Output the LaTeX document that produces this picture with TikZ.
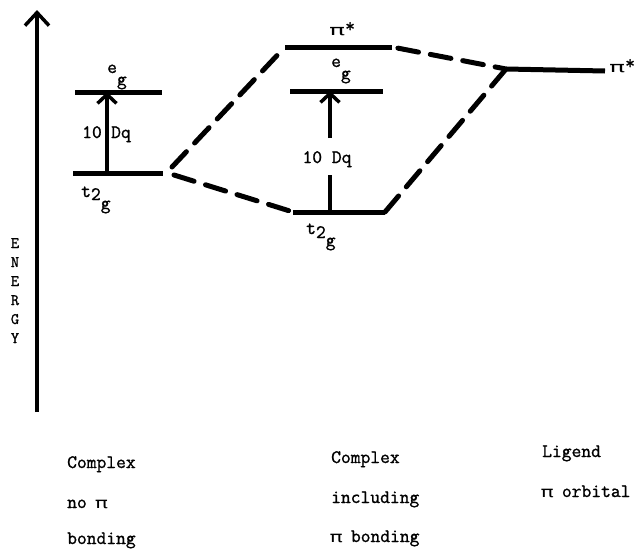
\documentclass[tikz,border=0pt]{standalone}
\usepackage{fontspec}
\newfontfamily\grkfont{DejaVu Sans Mono}
% typewriter face, slightly emboldened like a ribbon impression
\newfontfamily\twfont{Latin Modern Mono}[FakeBold=1.2]
\usetikzlibrary{arrows.meta}

% typewriter pi, one character cell wide
\newcommand\tpi{\makebox[0.525em]{\grkfont\scalebox{1.15}[0.8]{π}}}
% wider pi for the orbital labels
\newcommand\wpi{{\grkfont\scalebox{1.4}[0.78]{π}}}

\begin{document}
\begin{tikzpicture}[x=1pt,y=-1pt,
  level/.style={line width=5pt},
  link/.style={line width=5pt, line cap=round, dash pattern=on 21pt off 12pt},
  axis/.style={line width=3.5pt, -{Straight Barb[length=13pt,width=24pt,line width=3.5pt]}},
  split/.style={line width=3.5pt, -{Straight Barb[length=9pt,width=19pt,line width=3.5pt]}},
  stem/.style={line width=3.5pt},
  tw/.style={font=\fontsize{19}{19}\twfont, inner sep=0pt, anchor=base west},
  twc/.style={tw, anchor=base},
  twe/.style={tw, anchor=base east},
  ylab/.style={font=\fontsize{16}{16}\twfont, inner sep=0pt, anchor=base}]
\useasboundingbox (0,0) rectangle (635,549);

% ---- energy axis ----
\coordinate (axB) at (37,412);
\coordinate (axT) at (37,10);
\draw[axis] (axB) -- (axT);
\foreach \c [count=\i] in {E,N,E,R,G,Y}
  \node[ylab] (en\i) at (15,229+19*\i) {\c};

% ---- complex without pi bonding ----
\coordinate (LegL) at (75,92);   \coordinate (LegR) at (162,92);
\coordinate (LtL)  at (73,173);  \coordinate (LtR)  at (163,173);
\draw[level] (LegL) -- (LegR);
\draw[level] (LtL) -- (LtR);
\coordinate (LarB) at (107,173); \coordinate (LarT) at (107,92);
\draw[split] (LarB) -- (LarT);
\node[tw] (egL) at (107,73) {e\raisebox{-12pt}{g}};
\node[tw] (t2gL) at (81,197) {t\raisebox{-3pt}{2}\raisebox{-12pt}{g}};
\node[twe] (tenL) at (102,138) {10};
\node[tw] (dqL) at (111,138) {Dq};

% ---- complex including pi bonding ----
\coordinate (MpL) at (285,47);   \coordinate (MpR) at (392,47);
\coordinate (MegL) at (290,91);  \coordinate (MegR) at (383,91);
\coordinate (MtL) at (293,212);  \coordinate (MtR) at (385,212);
\draw[level] (MpL) -- (MpR);
\draw[level] (MegL) -- (MegR);
\draw[level] (MtL) -- (MtR);
\node[tw] (piM) at (329,35) {\wpi\raisebox{3pt}{*}};
\node[tw] (egM) at (331,67) {e\raisebox{-12pt}{g}};
\node[tw] (t2gM) at (306,234) {t\raisebox{-4pt}{2}\raisebox{-12pt}{g}};
\node[twc] (dqM) at (327,163) {10 Dq};
\coordinate (MarB) at (330,212); \coordinate (MarG) at (330,175);
\coordinate (MarS) at (330,138); \coordinate (MarT) at (330,91);
\draw[stem] (MarB) -- (MarG);
\draw[split] (MarS) -- (MarT);

% ---- ligand pi* orbital ----
\coordinate (RpL) at (506,69);   \coordinate (RpR) at (605,71);
\draw[level] (RpL) -- (RpR);
\node[tw] (piR) at (609,72) {\wpi\raisebox{3pt}{*}};

% ---- correlation lines ----
\coordinate (jU) at (172,167);
\coordinate (jD) at (174,175);
\draw[link] (jU) -- (MpL);
\draw[link] (jD) -- (MtL);
\draw[link, dash phase=27pt] (MpR) -- (RpL);
\draw[link] (MtR) -- (RpL);

% ---- column captions ----
\node[tw] (c1a) at (67,468) {Complex};
\node[tw] (c1b) at (67,508) {no \tpi};
\node[tw] (c1c) at (67,544) {bonding};
\node[tw] (c2a) at (331,463) {Complex};
\node[tw] (c2b) at (331,503) {including};
\node[tw] (c2c) at (331,542) {\tpi\ bonding};
\node[tw] (c3a) at (542,457) {Ligend};
\node[tw] (c3b) at (542,497) {\tpi\ orbital};
\end{tikzpicture}
\end{document}
